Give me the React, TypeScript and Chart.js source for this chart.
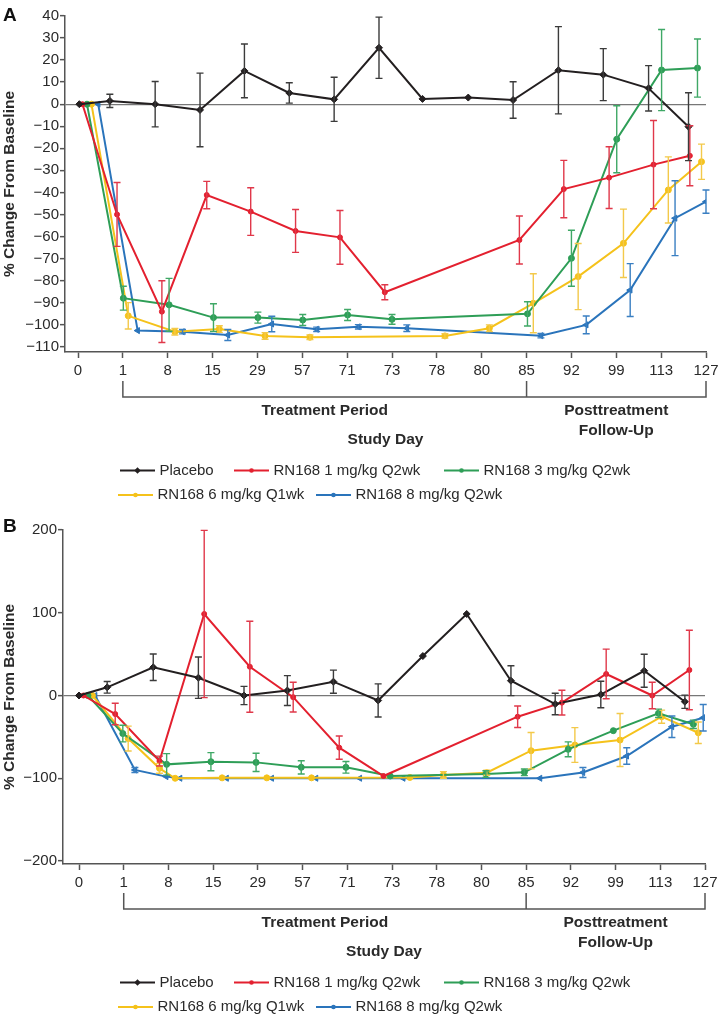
import React, { useEffect, useRef } from "react";
import { Chart, registerables } from "chart.js";

Chart.register(...registerables);

const FONT = '"Liberation Sans", Arial, Helvetica, sans-serif';

// ---------- shared labels ----------
const dayLabels = ["0", "1", "8", "15", "29", "57", "71", "73", "78", "80", "85", "92", "99", "113", "127"];
const seriesNames = ["Placebo", "RN168 1 mg/kg Q2wk", "RN168 3 mg/kg Q2wk", "RN168 6 mg/kg Q1wk", "RN168 8 mg/kg Q2wk"];
const yTicksA = [40, 30, 20, 10, 0, -10, -20, -30, -40, -50, -60, -70, -80, -90, -100, -110];
const yTicksB = [200, 100, 0, -100, -200];

// ---------- Panel A (x = position along the study-day axis, in tick units) ----------
const placeboAX = [0.03, 0.71, 1.72, 2.72, 3.71, 4.71, 5.71, 6.71, 7.68, 8.7, 9.7, 10.71, 11.71, 12.72, 13.61];
const placeboAY = [0, 1.5, 0, -2.6, 15.1, 5.1, 2.2, 25.6, 2.4, 3.0, 1.9, 15.4, 13.4, 7.2, -10.2];
const placeboAErr = [0, 3, 10.3, 16.7, 12.2, 4.6, 10, 13.9, 0, 0, 8.3, 19.8, 11.8, 10.3, 15.4];

const dose1AX = [0.1, 0.87, 1.87, 2.87, 3.85, 4.85, 5.84, 6.84, 9.84, 10.83, 11.84, 12.83, 13.64];
const dose1AY = [0, -50, -94.1, -41.2, -48.7, -57.5, -60.4, -85.3, -61.6, -38.5, -33.3, -27.4, -23.4];
const dose1AErr = [0, 14.5, 14, 6.2, 10.8, 9.7, 12.2, 3.4, 10.9, 13, 14, 20, 13.6];

const dose3AX = [0.2, 1.01, 2.03, 3.02, 4.01, 5.01, 6.01, 7.0, 10.02, 11.0, 12.01, 13.01, 13.81];
const dose3AY = [0, -88, -91, -96.8, -96.8, -97.9, -95.6, -97.6, -95.1, -69.9, -15.9, 15.5, 16.4];
const dose3AErr = [0, 5.4, 12, 6.3, 2.5, 2.5, 2.5, 2.2, 5.5, 12.7, 15.2, 18.4, 13.2];

const dose6AX = [0.3, 1.12, 2.16, 3.15, 4.17, 5.17, 8.18, 9.17, 10.15, 11.15, 12.16, 13.16, 13.9];
const dose6AY = [0, -96, -103.2, -102, -105.1, -105.7, -105.1, -101.6, -90.3, -78.2, -63.1, -38.9, -26.1];
const dose6AErr = [0, 6, 1.5, 1.5, 1.5, 1, 1, 1.5, 13.4, 15, 15.5, 15, 8];

const dose8AX = [0.45, 1.33, 2.33, 3.34, 4.32, 5.32, 6.25, 7.33, 10.32, 11.33, 12.31, 13.31, 14.0];
const dose8AY = [0, -102.7, -103.2, -104.7, -99.7, -102.1, -101, -101.6, -105, -100.1, -84.3, -51.7, -44.2];
const dose8AErr = [0, 0, 1, 2.5, 3.5, 1, 1, 1.5, 1, 4, 12, 17, 5.3];

// ---------- Panel B ----------
const placeboBX = [0, 0.63, 1.66, 2.67, 3.69, 4.66, 5.69, 6.69, 7.69, 8.67, 9.66, 10.65, 11.67, 12.64, 13.55];
const placeboBY = [0, 9.9, 34.1, 21.5, 0, 6, 16.7, -6, 47.7, 98.5, 17.9, -10.3, 1.2, 29.9, -7.5];
const placeboBErr = [0, 7, 16, 25, 11, 18, 14, 20, 0, 0, 18, 13, 16, 20, 8];

const dose1BX = [0.1, 0.81, 1.8, 2.8, 3.82, 4.79, 5.82, 6.81, 9.81, 10.8, 11.79, 12.82, 13.65];
const dose1BY = [0, -22.4, -79.2, 98.5, 34.8, -2, -63, -97.3, -25.6, -8.6, 26, 0, 30.8];
const dose1BErr = [0, 13, 6, 101, 55, 18, 14, 0, 13, 15, 30, 16, 48];

const dose3BX = [0.2, 0.98, 1.96, 2.95, 3.96, 4.97, 5.97, 6.96, 9.1, 9.96, 10.94, 11.95, 12.96, 13.74];
const dose3BY = [0, -46, -83.2, -80, -80.8, -86.8, -86.8, -97.3, -94.9, -92.8, -65, -42.5, -21.5, -34.8];
const dose3BErr = [0, 10, 13, 11, 11, 8, 7, 0, 4, 4, 9, 0, 5, 5];

const dose6BX = [0.3, 1.1, 1.8, 2.15, 3.2, 4.2, 5.2, 7.4, 8.15, 9.12, 10.11, 11.09, 12.1, 13.03, 13.85];
const dose6BY = [0, -52, -88, -100, -99.5, -99.5, -99.5, -99, -96, -93.3, -66.7, -59.8, -53.8, -25.6, -45];
const dose6BErr = [0, 15, 6, 0, 0, 0, 0, 0, 4, 3, 22, 21, 32, 8, 13];

const dose8BX = [0.36, 1.25, 1.95, 2.26, 3.3, 4.31, 5.3, 6.28, 7.25, 10.31, 11.27, 12.25, 13.26, 13.96];
const dose8BY = [0, -90, -98, -100, -100, -100, -100, -100, -100, -100, -93, -73.1, -37.7, -26.8];
const dose8BErr = [0, 3, 0, 0, 0, 0, 0, 0, 0, 0, 6, 10, 13, 16];

// ---------- styles ----------
const seriesStyles = [
  { color: "#231f20", errColor: "#3b3b3b", pointStyle: "rectRot", radius: 3.5, rotation: 0 },
  { color: "#e3202f", errColor: "#e0384a", pointStyle: "circle", radius: 2.5, rotation: 0 },
  { color: "#2e9e57", errColor: "#3fa866", pointStyle: "circle", radius: 3, rotation: 0 },
  { color: "#f5c21b", errColor: "#f3c94a", pointStyle: "circle", radius: 3, rotation: 0 },
  { color: "#2a74bb", errColor: "#3a7fc2", pointStyle: "triangle", radius: 3.5, rotation: -90 },
];

const panelA = {
  series: [
    { x: placeboAX, y: placeboAY, err: placeboAErr },
    { x: dose1AX, y: dose1AY, err: dose1AErr },
    { x: dose3AX, y: dose3AY, err: dose3AErr },
    { x: dose6AX, y: dose6AY, err: dose6AErr },
    { x: dose8AX, y: dose8AY, err: dose8AErr },
  ],
  yMin: -112.4, yMax: 40, yTicks: yTicksA,
  xMin: -0.29, xMax: 14,
  top: 16, bottom: 352, axisWidth: 65, right: 706, canvasH: 510,
  letter: "A", letterY: 16,
};

const panelB = {
  series: [
    { x: placeboBX, y: placeboBY, err: placeboBErr },
    { x: dose1BX, y: dose1BY, err: dose1BErr },
    { x: dose3BX, y: dose3BY, err: dose3BErr },
    { x: dose6BX, y: dose6BY, err: dose6BErr },
    { x: dose8BX, y: dose8BY, err: dose8BErr },
  ],
  yMin: -203.6, yMax: 200, yTicks: yTicksB,
  xMin: -0.358, xMax: 14,
  top: 20, bottom: 354, axisWidth: 63, right: 705, canvasH: 518,
  letter: "B", letterY: 17,
};

const AXIS_COLOR = "#555";
const TEXT_COLOR = "#2a2a2a";

const errorBarPlugin = {
  id: "errorBars",
  afterDatasetsDraw(chart: any) {
    const { ctx } = chart;
    const xs = chart.scales.x;
    const ys = chart.scales.y;
    const dsList = chart.data.datasets;
    for (let di = dsList.length - 1; di >= 0; di--) {
      const ds: any = dsList[di];
      const errs: number[] = ds.errors;
      if (!errs) continue;
      ctx.save();
      ctx.strokeStyle = ds.errColor;
      ctx.lineWidth = 1.4;
      ds.data.forEach((p: any, i: number) => {
        const e = errs[i];
        if (!e) return;
        const px = xs.getPixelForValue(p.x);
        const t = ys.getPixelForValue(p.y + e);
        const b = ys.getPixelForValue(p.y - e);
        ctx.beginPath();
        ctx.moveTo(px, t);
        ctx.lineTo(px, b);
        ctx.moveTo(px - 3.5, t);
        ctx.lineTo(px + 3.5, t);
        ctx.moveTo(px - 3.5, b);
        ctx.lineTo(px + 3.5, b);
        ctx.stroke();
      });
      ctx.restore();
    }
  },
};

function drawMarker(ctx: CanvasRenderingContext2D, style: any, x: number, y: number) {
  ctx.fillStyle = style.color;
  ctx.beginPath();
  if (style.pointStyle === "rectRot") {
    const r = 3.2;
    ctx.moveTo(x, y - r);
    ctx.lineTo(x + r, y);
    ctx.lineTo(x, y + r);
    ctx.lineTo(x - r, y);
    ctx.closePath();
  } else {
    ctx.arc(x, y, 2.3, 0, Math.PI * 2);
  }
  ctx.fill();
}

const legendRows = [
  [{ i: 0, x: 120 }, { i: 1, x: 234 }, { i: 2, x: 444 }],
  [{ i: 3, x: 118 }, { i: 4, x: 316 }],
];

const decorPlugin = {
  id: "decor",
  afterDraw(chart: any, _args: any, opts: any) {
    const { ctx, chartArea, scales } = chart;
    const xs = scales.x;
    const b = chartArea.bottom;
    ctx.save();
    // panel letter
    ctx.fillStyle = "#111";
    ctx.font = `bold 19px ${FONT}`;
    ctx.textAlign = "left";
    ctx.textBaseline = "middle";
    ctx.fillText(opts.letter, 3, opts.letterY);

    // bracket
    const x1 = xs.getPixelForValue(1);
    const x85 = xs.getPixelForValue(10);
    const x127 = xs.getPixelForValue(14);
    ctx.strokeStyle = AXIS_COLOR;
    ctx.lineWidth = 1.5;
    ctx.beginPath();
    ctx.moveTo(x1, b + 29);
    ctx.lineTo(x1, b + 45);
    ctx.lineTo(x127, b + 45);
    ctx.lineTo(x127, b + 29);
    ctx.moveTo(x85, b + 29);
    ctx.lineTo(x85, b + 45);
    ctx.stroke();

    ctx.fillStyle = TEXT_COLOR;
    ctx.font = `bold 15.5px ${FONT}`;
    ctx.textAlign = "center";
    ctx.fillText("Treatment Period", (x1 + x85) / 2, b + 59);
    ctx.fillText("Posttreatment", (x85 + x127) / 2, b + 59);
    ctx.fillText("Follow-Up", (x85 + x127) / 2, b + 78.5);
    ctx.fillText("Study Day", (chartArea.left + chartArea.right) / 2, b + 87.5);

    // legend
    ctx.font = `15px ${FONT}`;
    ctx.textAlign = "left";
    legendRows.forEach((row, ri) => {
      const y = b + 118.5 + ri * 24.5;
      row.forEach((item) => {
        const st = seriesStyles[item.i];
        ctx.strokeStyle = st.color;
        ctx.lineWidth = 2;
        ctx.beginPath();
        ctx.moveTo(item.x, y);
        ctx.lineTo(item.x + 35, y);
        ctx.stroke();
        drawMarker(ctx, st, item.x + 17.5, y);
        ctx.fillStyle = TEXT_COLOR;
        ctx.fillText(seriesNames[item.i], item.x + 39.5, y);
      });
    });
    ctx.restore();
  },
};

function fmtY(v: number) {
  return v < 0 ? "\u2212" + Math.abs(v) : String(v);
}

function buildConfig(p: any): any {
  const datasets = p.series.map((s: any, i: number) => {
    const st = seriesStyles[i];
    return {
      label: seriesNames[i],
      data: s.x.map((xv: number, j: number) => ({ x: xv, y: s.y[j] })),
      errors: s.err,
      errColor: st.errColor,
      borderColor: st.color,
      backgroundColor: st.color,
      borderWidth: 2,
      pointStyle: st.pointStyle,
      pointRadius: st.radius,
      pointRotation: st.rotation,
      pointBackgroundColor: st.color,
      pointBorderColor: st.color,
      pointBorderWidth: 1,
      tension: 0,
      fill: false,
    };
  });
  return {
    type: "line",
    data: { datasets },
    plugins: [errorBarPlugin, decorPlugin],
    options: {
      responsive: false,
      animation: false,
      events: [],
      layout: {
        padding: {
          top: p.top,
          left: 0,
          right: 720 - p.right,
          bottom: p.canvasH - p.bottom - 30,
        },
      },
      plugins: {
        legend: { display: false },
        tooltip: { enabled: false },
        decor: { letter: p.letter, letterY: p.letterY },
      },
      scales: {
        x: {
          type: "linear",
          min: p.xMin,
          max: p.xMax,
          afterBuildTicks: (s: any) => {
            s.ticks = dayLabels.map((_, i) => ({ value: i }));
          },
          afterFit: (s: any) => {
            s.height = 30;
          },
          ticks: {
            autoSkip: false,
            maxRotation: 0,
            padding: 0,
            color: TEXT_COLOR,
            font: { family: FONT, size: 15, lineHeight: 1.7 },
            callback: (v: number) => dayLabels[Math.round(v)] ?? "",
          },
          grid: {
            drawOnChartArea: false,
            drawTicks: true,
            tickLength: 6,
            tickColor: AXIS_COLOR,
            tickWidth: 1.5,
          },
          border: { display: true, color: AXIS_COLOR, width: 1.5 },
        },
        y: {
          min: p.yMin,
          max: p.yMax,
          afterBuildTicks: (s: any) => {
            s.ticks = p.yTicks.map((v: number) => ({ value: v }));
          },
          afterFit: (s: any) => {
            s.width = p.axisWidth;
          },
          ticks: {
            padding: 1,
            color: TEXT_COLOR,
            font: { family: FONT, size: 15 },
            callback: (v: number) => fmtY(v),
          },
          grid: {
            drawOnChartArea: true,
            color: (c: any) => (c.tick && c.tick.value === 0 ? "#777" : "rgba(0,0,0,0)"),
            lineWidth: 1.3,
            drawTicks: true,
            tickLength: 5,
            tickColor: AXIS_COLOR,
            tickWidth: 1.5,
          },
          border: { display: true, color: AXIS_COLOR, width: 1.5 },
          title: {
            display: true,
            text: "% Change From Baseline",
            color: TEXT_COLOR,
            font: { family: FONT, size: 15.5, weight: "bold" },
            padding: { top: 0, bottom: 0 },
          },
        },
      },
    },
  };
}

export default function App() {
  const refA = useRef<HTMLCanvasElement>(null);
  const refB = useRef<HTMLCanvasElement>(null);
  useEffect(() => {
    const a = new Chart(refA.current as HTMLCanvasElement, buildConfig(panelA));
    const b = new Chart(refB.current as HTMLCanvasElement, buildConfig(panelB));
    return () => {
      a.destroy();
      b.destroy();
    };
  }, []);
  return (
    <div style={{ position: "absolute", left: 0, top: 0, width: 720, height: 1028, background: "#fff" }}>
      <canvas ref={refA} width={720} height={510} style={{ position: "absolute", left: 0, top: 0 }} />
      <canvas ref={refB} width={720} height={518} style={{ position: "absolute", left: 0, top: 510 }} />
    </div>
  );
}
